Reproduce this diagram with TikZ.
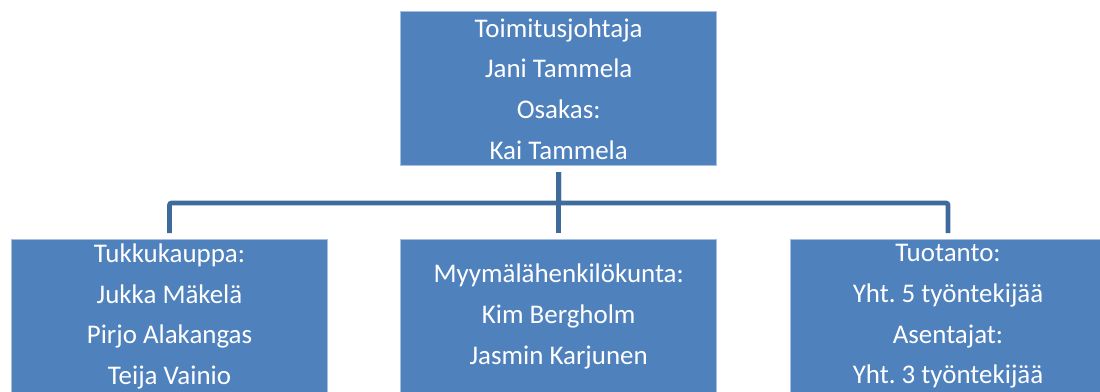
\documentclass[tikz,border=0pt]{standalone}
\usepackage{fontspec}
\setmainfont{Carlito}
\usetikzlibrary{positioning}
\frenchspacing
\definecolor{boxfill}{HTML}{4F81BD}
\definecolor{boxedge}{HTML}{A7C0E0}
\definecolor{linkblue}{HTML}{3F6A9C}
\tikzset{
  every picture/.style={x=0.75pt,y=-0.75pt},
  orgbox/.style={rectangle,fill=boxfill,draw=boxedge,line width=0.6pt,text=white,align=center,
    minimum width=237pt,minimum height=115.5pt,inner sep=0pt,
    font=\fontsize{20.2}{30.5}\selectfont},
  link/.style={draw=linkblue,line width=3.5pt,rounded corners=1.5pt,shorten <=4.5pt,shorten >=4.5pt},
}
\begin{document}
\begin{tikzpicture}
  \useasboundingbox (0,0) rectangle (1100,392);
  \clip (0,0) rectangle (1100,392);
  % top of the organisation
  \node[orgbox] (ceo) at (558.7,88.9) {Toimitusjohtaja\\Jani Tammela\\Osakas:\\Kai Tammela};
  % departments
  \node[orgbox] (tukku) at (169.5,316.5) {Tukkukauppa:\\Jukka Mäkelä\\Pirjo Alakangas\\Teija Vainio};
  \node[orgbox] (myym) at (558.7,316.5) {Myymälähenkilökunta:\\Kim Bergholm\\Jasmin Karjunen};
  \node[orgbox] (tuot) at (948,316.5) {Tuotanto:\\Yht. 5 työntekijää\\Asentajat:\\Yht. 3 työntekijää};
  % connectors
  \foreach \dept in {tukku,myym,tuot}
    \draw[link] (ceo.south) -- ++(0,36.7) -| (\dept.north);
\end{tikzpicture}
\end{document}
